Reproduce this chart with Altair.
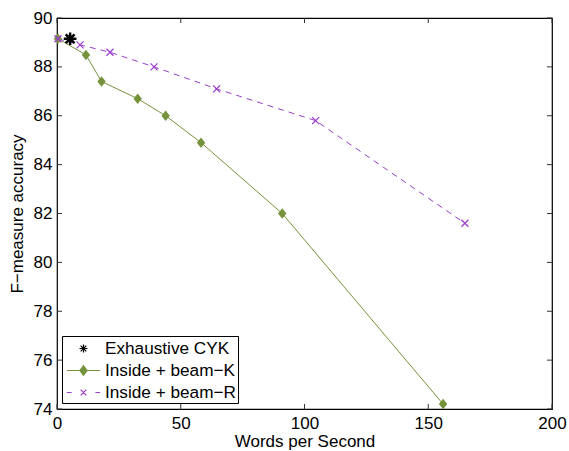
import altair as alt
import pandas as pd

# Throughput (words per second) vs. parsing accuracy
beam_k_wps = [0.4, 11.7, 18.0, 32.6, 43.9, 58.2, 91.0, 156.0]
beam_k_f1 = [89.15, 88.49, 87.4, 86.7, 86.0, 84.9, 82.0, 74.2]

beam_r_wps = [0.4, 9.3, 21.4, 39.2, 64.5, 104.5, 164.8]
beam_r_f1 = [89.15, 88.9, 88.6, 88.0, 87.1, 85.8, 81.6]

cyk_wps = [5.3]
cyk_f1 = [89.15]

series_names = ["Exhaustive CYK", "Inside + beam\u2212K", "Inside + beam\u2212R"]
series_colors = ["#000000", "#76923c", "#9b3fcf"]

x_ticks = [0, 50, 100, 150, 200]
y_ticks = [74, 76, 78, 80, 82, 84, 86, 88, 90]

W, H = 495, 391
FONT = "Liberation Sans"
GREEN = series_colors[1]
PURPLE = series_colors[2]
TICK = 5

# marker shapes (unit-square SVG paths)
DIAMOND = "M0,-1L0.8,0L0,1L-0.8,0Z"
XMARK = "M-1,-1L1,1M-1,1L1,-1"
STAR = "M-1,0H1M0,-1V1M-0.7,-0.7L0.7,0.7M-0.7,0.7L0.7,-0.7"

# legend glyphs: marker plus a line sample; the diamond is solidified
# with closely spaced horizontal strokes so it reads as filled
_hatch = ""
for i in range(-9, 10):
    yy = i * 0.05
    hw = 0.38 * (1 - abs(yy) / 0.5)
    _hatch += f"M{-hw:.3f},{yy:.3f}H{hw:.3f}"
legend_paths = [
    "M-0.42,0H0.42M0,-0.42V0.42M-0.3,-0.3L0.3,0.3M-0.3,0.3L0.3,-0.3",
    "M-1.75,0H1.75M0,-0.5L0.38,0L0,0.5L-0.38,0Z" + _hatch,
    "M-1.75,0H-1.25M1.25,0H1.75M-0.3,-0.3L0.3,0.3M-0.3,0.3L0.3,-0.3",
]

x_scale = alt.Scale(domain=[0, 200], nice=False, zero=False)
y_scale = alt.Scale(domain=[74, 90], nice=False, zero=False)

x_axis = alt.Axis(values=x_ticks, ticks=False, grid=False, domain=False,
                  labelFontSize=17, labelColor="black", labelPadding=6,
                  labelFlush=False, titleFontSize=17, titleFontWeight="normal",
                  titleColor="black", titlePadding=2)
y_axis = alt.Axis(values=y_ticks, ticks=False, grid=False, domain=False,
                  labelFontSize=17, labelColor="black", labelPadding=5,
                  labelFlush=False, titleFontSize=17, titleFontWeight="normal",
                  titleColor="black", titlePadding=7)


def X(field):
    return alt.X(field, type="quantitative", scale=x_scale, axis=x_axis,
                 title="Words per Second")


def Y(field):
    return alt.Y(field, type="quantitative", scale=y_scale, axis=y_axis,
                 title="F\u2212measure accuracy")


k_df = pd.DataFrame({"wps": beam_k_wps, "f1": beam_k_f1})
r_df = pd.DataFrame({"wps": beam_r_wps, "f1": beam_r_f1})
c_df = pd.DataFrame({"wps": cyk_wps, "f1": cyk_f1})
xt_df = pd.DataFrame({"v": x_ticks})
yt_df = pd.DataFrame({"v": y_ticks})
leg_df = pd.DataFrame({"series": series_names})

k_line = alt.Chart(k_df).mark_line(color=GREEN, strokeWidth=1).encode(
    x=X("wps"), y=Y("f1"))
r_line = alt.Chart(r_df).mark_line(color=PURPLE, strokeWidth=1,
                                   strokeDash=[6, 5]).encode(
    x=X("wps"), y=Y("f1"))
k_pts = alt.Chart(k_df).mark_point(shape=DIAMOND, size=110, filled=True,
                                   color=GREEN, opacity=1).encode(
    x=X("wps"), y=Y("f1"))
r_pts = alt.Chart(r_df).mark_point(shape=XMARK, size=49, color=PURPLE,
                                   strokeWidth=1.3, opacity=1).encode(
    x=X("wps"), y=Y("f1"))
c_pts = alt.Chart(c_df).mark_point(shape=STAR, size=160, color="black",
                                   strokeWidth=2.5, opacity=1).encode(
    x=X("wps"), y=Y("f1"))

# inward tick marks on all four sides of the frame
tick_style = dict(color="#333333", strokeWidth=1)
y_left = alt.Chart(yt_df).mark_rule(**tick_style).encode(
    y=Y("v"), x=alt.value(0), x2=alt.value(TICK))
y_right = alt.Chart(yt_df).mark_rule(**tick_style).encode(
    y=Y("v"), x=alt.value(W - TICK), x2=alt.value(W))
x_bottom = alt.Chart(xt_df).mark_rule(**tick_style).encode(
    x=X("v"), y=alt.value(H - TICK), y2=alt.value(H))
x_top = alt.Chart(xt_df).mark_rule(**tick_style).encode(
    x=X("v"), y=alt.value(0), y2=alt.value(TICK))

legend = alt.Legend(
    title=None, orient="none", legendX=5, legendY=318,
    fillColor="white", strokeColor="black", padding=2,
    symbolSize=361, symbolStrokeWidth=1.2, symbolOffset=9,
    symbolOpacity=1,
    labelFontSize=17.2, labelColor="black", labelOffset=11, labelFont=FONT,
    rowPadding=3,
)
leg_layer = alt.Chart(leg_df).mark_point(opacity=0).encode(
    x=alt.value(0), y=alt.value(0),
    shape=alt.Shape("series:N", scale=alt.Scale(domain=series_names,
                                                range=legend_paths),
                    legend=legend),
    stroke=alt.Stroke("series:N", scale=alt.Scale(domain=series_names,
                                                  range=series_colors),
                      legend=legend),
)

chart = alt.layer(
    y_left, y_right, x_bottom, x_top,
    k_line, r_line, k_pts, r_pts, c_pts, leg_layer,
).properties(
    width=W, height=H,
    autosize=alt.AutoSizeParams(type="none"),
    padding={"left": 57, "top": 18, "right": 17, "bottom": 42},
).configure(
    font=FONT, background="white",
).configure_view(
    stroke="black", strokeWidth=1.2,
)

chart.save("out.html", embed_options={"renderer": "svg", "actions": False})
